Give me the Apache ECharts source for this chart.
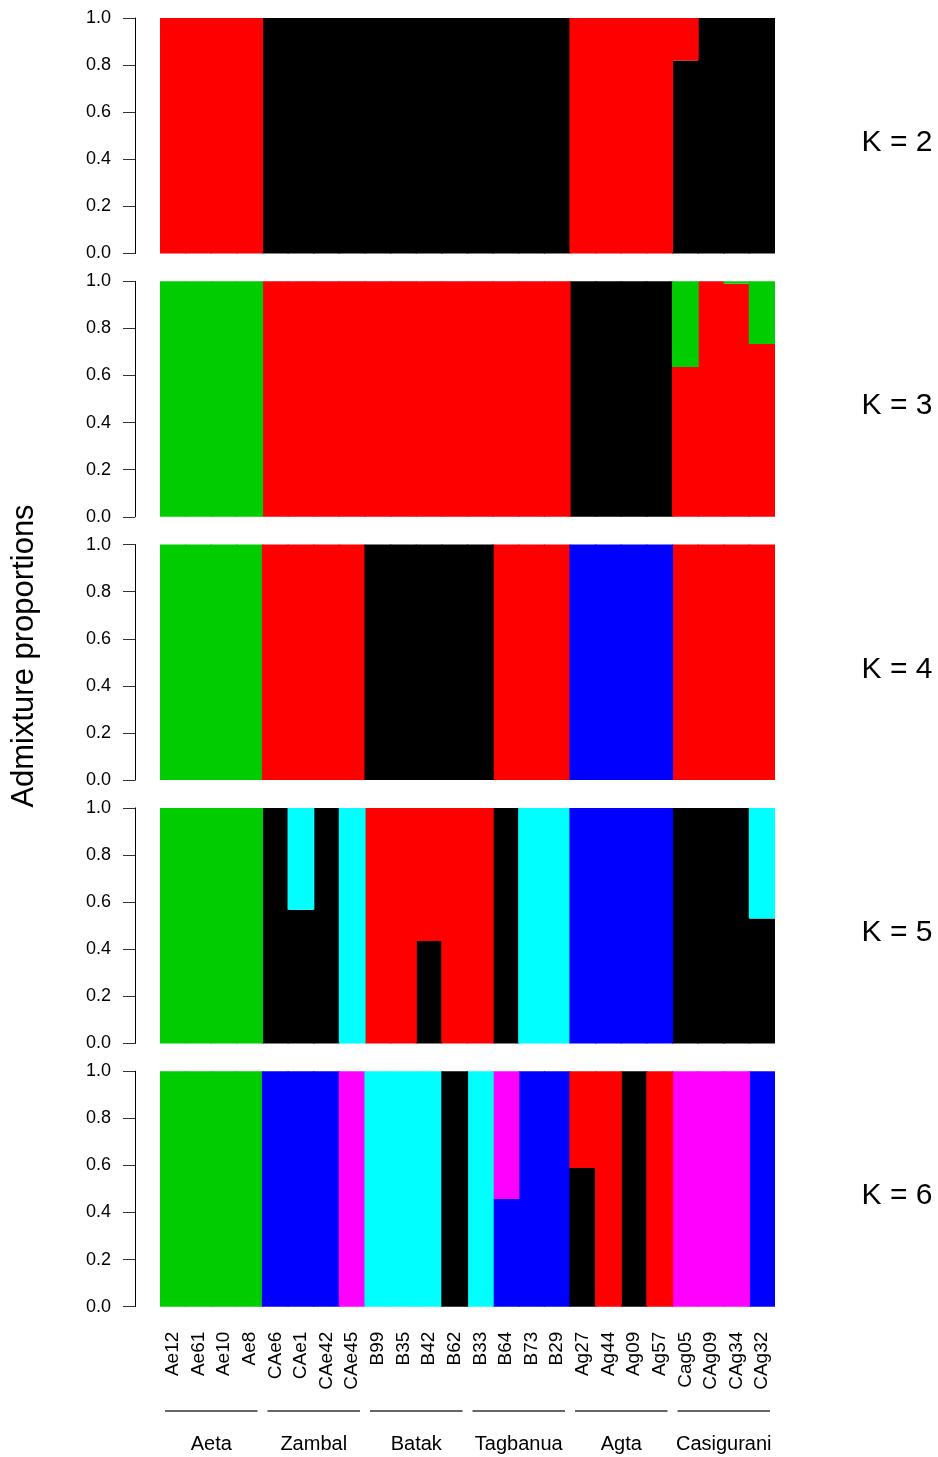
<!DOCTYPE html>
<html>
<head>
<meta charset="utf-8">
<script src="https://cdn.jsdelivr.net/npm/echarts@6/dist/echarts.min.js"></script>
<style>html,body{margin:0;padding:0;background:#fff;}#chart{width:938px;height:1457px;}</style>
</head>
<body>
<div id="chart"></div>
<script>
// ---- data ----
const samples = ['Ae12','Ae61','Ae10','Ae8','CAe6','CAe1','CAe42','CAe45','B99','B35','B42','B62','B33','B64','B73','B29','Ag27','Ag44','Ag09','Ag57','Cag05','CAg09','CAg34','CAg32'];
const groups = ['Aeta','Zambal','Batak','Tagbanua','Agta','Casigurani'];
const groupSizes = [4,4,4,4,4,4];
const kLabels = ['K = 2','K = 3','K = 4','K = 5','K = 6'];
const yTicks = [0,0.2,0.4,0.6,0.8,1.0];

// K = 2 (bottom to top)
const k2_black = [0,0,0,0, 1,1,1,1, 1,1,1,1, 1,1,1,1, 0,0,0,0, 0.82,1,1,1];
const k2_red   = [1,1,1,1, 0,0,0,0, 0,0,0,0, 0,0,0,0, 1,1,1,1, 0.18,0,0,0];

// K = 3
const k3_black = [0,0,0,0, 0,0,0,0, 0,0,0,0, 0,0,0,0, 1,1,1,1, 0,0,0,0];
const k3_red   = [0,0,0,0, 1,1,1,1, 1,1,1,1, 1,1,1,1, 0,0,0,0, 0.636,1,0.99,0.734];
const k3_green = [1,1,1,1, 0,0,0,0, 0,0,0,0, 0,0,0,0, 0,0,0,0, 0.364,0,0.01,0.266];

// K = 4
const k4_green = [1,1,1,1, 0,0,0,0, 0,0,0,0, 0,0,0,0, 0,0,0,0, 0,0,0,0];
const k4_red   = [0,0,0,0, 1,1,1,1, 0,0,0,0, 0,1,1,1, 0,0,0,0, 1,1,1,1];
const k4_black = [0,0,0,0, 0,0,0,0, 1,1,1,1, 1,0,0,0, 0,0,0,0, 0,0,0,0];
const k4_blue  = [0,0,0,0, 0,0,0,0, 0,0,0,0, 0,0,0,0, 1,1,1,1, 0,0,0,0];

// K = 5
const k5_black = [0,0,0,0, 1,0.568,1,0, 0,0,0.435,0, 0,1,0,0, 0,0,0,0, 1,1,1,0.53];
const k5_red   = [0,0,0,0, 0,0,0,0, 1,1,0.565,1, 1,0,0,0, 0,0,0,0, 0,0,0,0];
const k5_cyan  = [0,0,0,0, 0,0.432,0,1, 0,0,0,0, 0,0,1,1, 0,0,0,0, 0,0,0,0.47];
const k5_green = [1,1,1,1, 0,0,0,0, 0,0,0,0, 0,0,0,0, 0,0,0,0, 0,0,0,0];
const k5_blue  = [0,0,0,0, 0,0,0,0, 0,0,0,0, 0,0,0,0, 1,1,1,1, 0,0,0,0];

// K = 6
const k6_green   = [1,1,1,1, 0,0,0,0, 0,0,0,0, 0,0,0,0, 0,0,0,0, 0,0,0,0];
const k6_blue    = [0,0,0,0, 1,1,1,0, 0,0,0,0, 0,0.457,1,1, 0,0,0,0, 0,0,0,1];
const k6_magenta = [0,0,0,0, 0,0,0,1, 0,0,0,0, 0,0.543,0,0, 0,0,0,0, 1,1,1,0];
const k6_cyan    = [0,0,0,0, 0,0,0,0, 1,1,1,0, 1,0,0,0, 0,0,0,0, 0,0,0,0];
const k6_black   = [0,0,0,0, 0,0,0,0, 0,0,0,1, 0,0,0,0, 0.589,0,1,0, 0,0,0,0];
const k6_red     = [0,0,0,0, 0,0,0,0, 0,0,0,0, 0,0,0,0, 0.411,1,0,1, 0,0,0,0];

// ---- styles ----
const C = {red:'#FF0000', black:'#000000', green:'#00CD00', blue:'#0000FF', cyan:'#00FFFF', magenta:'#FF00FF'};
const panels = [
  [['black',k2_black],['red',k2_red]],
  [['black',k3_black],['red',k3_red],['green',k3_green]],
  [['green',k4_green],['red',k4_red],['black',k4_black],['blue',k4_blue]],
  [['black',k5_black],['red',k5_red],['cyan',k5_cyan],['green',k5_green],['blue',k5_blue]],
  [['green',k6_green],['blue',k6_blue],['magenta',k6_magenta],['cyan',k6_cyan],['black',k6_black],['red',k6_red]]
];
const FONT = '"Liberation Sans", Arial, Helvetica, sans-serif';
const GRID_LEFT = 160, GRID_W = 615, GRID_H = 235.5;
const gridTops = [18, 281.3, 544.6, 807.9, 1071.2];
const BW = GRID_W / samples.length;

const grid = [], xAxis = [], yAxis = [], series = [];
panels.forEach((comps, i) => {
  grid.push({left: GRID_LEFT, width: GRID_W, top: gridTops[i], height: GRID_H, containLabel: false});
  const last = i === panels.length - 1;
  xAxis.push({
    type: 'category', gridIndex: i, data: samples,
    axisLine: {show: false}, axisTick: {show: false},
    axisLabel: last ? {show: true, rotate: 90, interval: 0, margin: 25, fontSize: 19, color: '#000', fontFamily: FONT} : {show: false},
    splitLine: {show: false}
  });
  yAxis.push({
    type: 'value', gridIndex: i, min: 0, max: 1, interval: 0.2, offset: 25,
    axisLine: {show: true, lineStyle: {color: '#000', width: 1}},
    axisTick: {show: true, length: 12, lineStyle: {color: '#333', width: 1}},
    axisLabel: {show: true, margin: 24, fontSize: 18, color: '#000', fontFamily: FONT, formatter: v => v.toFixed(1)},
    splitLine: {show: false}
  });
  comps.forEach(([col, arr]) => {
    series.push({
      type: 'bar', xAxisIndex: i, yAxisIndex: i, stack: 'k' + i,
      data: arr.map(v => v === 0 ? '-' : v), barWidth: BW + 1.2,
      itemStyle: {color: C[col]},
      emphasis: {disabled: true}, silent: true, animation: false
    });
  });
});

const chart = echarts.init(document.getElementById('chart'), null, {renderer: 'canvas'});
chart.setOption({backgroundColor: '#fff', animation: false, grid, xAxis, yAxis, series});

// annotations (group lines, group names, K labels, y title)
const graphic = [];
let start = 0;
groups.forEach((g, gi) => {
  const n = groupSizes[gi];
  const x0 = chart.convertToPixel({xAxisIndex: 4}, samples[start]) - BW / 2;
  const x1 = chart.convertToPixel({xAxisIndex: 4}, samples[start + n - 1]) + BW / 2;
  graphic.push({type: 'line', shape: {x1: x0 + 5, y1: 1411, x2: x1 - 5, y2: 1411}, style: {stroke: '#333', lineWidth: 1.3}, silent: true});
  graphic.push({type: 'text', x: (x0 + x1) / 2, y: 1444, style: {text: g, fontSize: 20, fontFamily: FONT, fill: '#000', textAlign: 'center', textVerticalAlign: 'middle'}, silent: true});
  start += n;
});
kLabels.forEach((t, i) => {
  graphic.push({type: 'text', x: 897, y: gridTops[i] + GRID_H / 2 + 7, style: {text: t, fontSize: 30, fontFamily: FONT, fill: '#000', textAlign: 'center', textVerticalAlign: 'middle'}, silent: true});
});
graphic.push({type: 'text', x: 24, y: 656, rotation: Math.PI / 2, style: {text: 'Admixture proportions', fontSize: 31, fontFamily: FONT, fill: '#000', textAlign: 'center', textVerticalAlign: 'middle'}, silent: true});
chart.setOption({graphic});
</script>
</body>
</html>
